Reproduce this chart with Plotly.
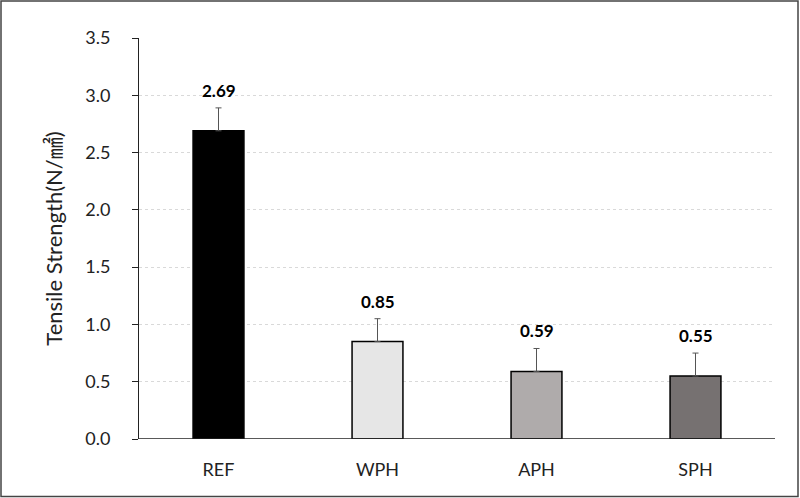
import plotly.graph_objects as go

categories = ["REF", "WPH", "APH", "SPH"]
values = [2.69, 0.85, 0.59, 0.55]
errors = [0.20, 0.20, 0.20, 0.20]
labels = ["2.69", "0.85", "0.59", "0.55"]
colors = ["#000000", "#e6e6e6", "#afabab", "#767171"]
y_ticks = [0.0, 0.5, 1.0, 1.5, 2.0, 2.5, 3.0, 3.5]

W, H = 800, 498
ml, mr, mt, mb = 139, 25, 38, 59
pw, ph = W - ml - mr, H - mt - mb

fig = go.Figure()
fig.add_trace(go.Bar(
    x=categories, y=values, width=0.32,
    marker=dict(color=colors, line=dict(color="#000000", width=1.5)),
    error_y=dict(type="data", array=errors, symmetric=False, arrayminus=[0]*4,
                 color="#555555", thickness=1, width=3),
    showlegend=False,
))

for c, v, e, t in zip(categories, values, errors, labels):
    fig.add_annotation(x=c, y=v + e, text=f"<b>{t}</b>", showarrow=False,
                       yanchor="bottom", yshift=5,
                       font=dict(family="Lato, Open Sans, sans-serif", size=17, color="#000000"))

fig.add_shape(type="rect", xref="paper", yref="paper",
              x0=(1 - ml) / pw, x1=(W - 2 - ml) / pw,
              y0=-(mb - 1.5) / ph, y1=(ph + mt - 1) / ph,
              line=dict(color="#444444", width=1.5), fillcolor="rgba(0,0,0,0)", layer="above")

fig.update_layout(
    width=W, height=H,
    margin=dict(l=ml, r=mr, t=mt, b=mb),
    paper_bgcolor="white", plot_bgcolor="white",
    font=dict(family="Lato, Open Sans, sans-serif", size=18, color="#222222"),
    bargap=0.68,
    xaxis=dict(showgrid=False, showline=False, ticks="", ticklabelstandoff=18,
               tickfont=dict(size=18)),
    yaxis=dict(range=[0, 3.5], tickvals=y_ticks, ticktext=[f"{v:.1f}" for v in y_ticks],
               showgrid=True, gridcolor="#d9d9d9", griddash="dot", gridwidth=1,
               showline=True, linecolor="#222222", linewidth=1,
               ticks="outside", ticklen=6, tickcolor="#222222",
               ticklabelstandoff=18, zeroline=False,
               title=dict(text="Tensile Strength(N/㎟)", standoff=16,
                          font=dict(family="Lato, Noto Sans CJK KR, sans-serif", size=22))),
)
fig.add_shape(type="line", xref="paper", yref="y", x0=0, x1=1, y0=0, y1=0,
              line=dict(color="#222222", width=1.5), layer="above")

fig.write_html("out.html", config={"displayModeBar": False},
               post_script="document.body.style.margin='0';")
